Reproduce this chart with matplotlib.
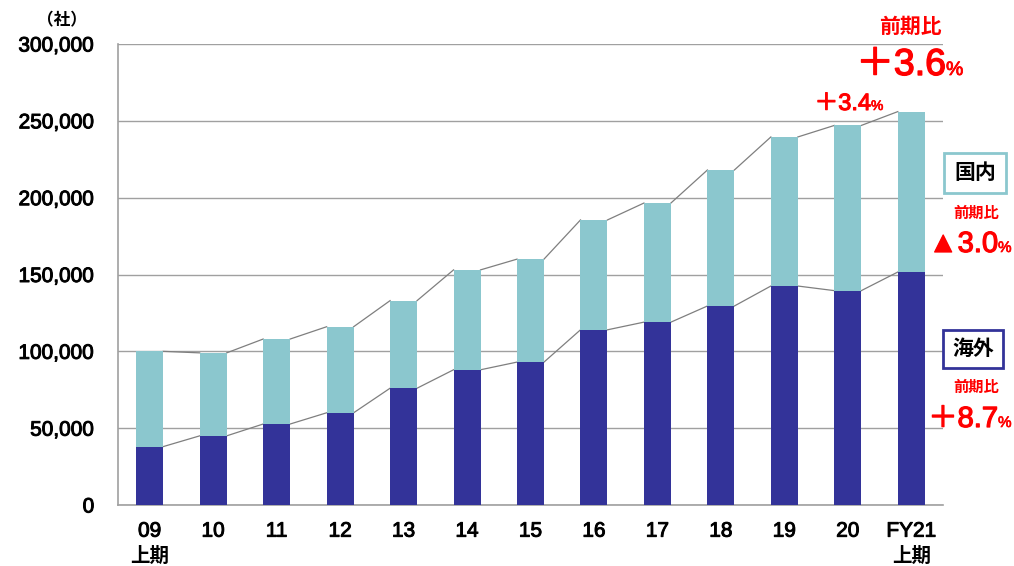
import numpy as np
import matplotlib
matplotlib.use('Agg')
import matplotlib.pyplot as plt
import matplotlib.transforms as mtransforms
import matplotlib.patheffects as pe

plt.rcParams['font.family'] = ['Liberation Sans', 'Noto Sans CJK JP']

categories = ['09', '10', '11', '12', '13', '14', '15', '16', '17', '18', '19', '20', 'FY21']
sub_labels = ['上期', '', '', '', '', '', '', '', '', '', '', '', '上期']
overseas = [38000, 45000, 52700, 60000, 76000, 88000, 93000, 114000, 119000, 129500, 142500, 139500, 151600]
domestic = [62000, 54000, 55300, 56000, 57000, 65000, 67000, 71500, 77500, 88500, 97000, 107500, 104400]
yticks = [0, 50000, 100000, 150000, 200000, 250000, 300000]

c_over = '#333399'
c_dom = '#8BC7CE'
W, H = 1014, 566

fig = plt.figure(figsize=(W / 100, H / 100), dpi=100)
ax = fig.add_axes([118 / W, 1 - 505 / H, (943 - 118) / W, (505 - 44) / H])

x = np.arange(len(categories))
w = 0.425
over = np.array(overseas)
total = over + np.array(domestic)

ax.bar(x, over, w, color=c_over, zorder=3)
ax.bar(x, domestic, w, bottom=over, color=c_dom, zorder=3)

# series lines between bar tops
for vals in (over, total):
    for i in range(len(x) - 1):
        ax.plot([x[i] + w / 2, x[i + 1] - w / 2], [vals[i], vals[i + 1]],
                color='#7F7F7F', lw=0.9, zorder=2)


def thick(color='black', lw=0.7):
    return [pe.withStroke(linewidth=lw, foreground=color)]


ax.set_xlim(-0.5, len(x) - 0.5)
ax.set_ylim(0, 300000)
ax.set_yticks(yticks)
ax.set_yticklabels([f'{v:,}' for v in yticks], fontsize=15)
ax.set_xticks(x)
ax.set_xticklabels(categories, fontsize=15)
ax.tick_params(axis='y', length=0, pad=17)
ax.tick_params(axis='x', length=0, pad=12)
for lab in ax.get_yticklabels() + ax.get_xticklabels():
    lab.set_path_effects(thick())
ax.grid(axis='y', color='#A0A0A0', lw=1, zorder=1)
for s in ('top', 'right'):
    ax.spines[s].set_visible(False)
for s in ('left', 'bottom'):
    ax.spines[s].set_color('#A0A0A0')
    ax.spines[s].set_linewidth(1.2)

trans = mtransforms.blended_transform_factory(ax.transData, fig.transFigure)
for xi, s in zip(x, sub_labels):
    if s:
        ax.text(xi, 1 - 556 / H, s, transform=trans, fontsize=14, fontweight='bold',
                ha='center', va='center')


def ftxt(px, py, s, **kw):
    return fig.text(px / W, 1 - py / H, s, **kw)


red = '#FF0000'
ftxt(62, 20, '（社）', fontsize=12, fontweight='bold', ha='center', va='center')

# total change
ftxt(910, 27, '前期比', fontsize=15, fontweight='bold', color=red, ha='center', va='center')
ftxt(946, 75, '＋3.6', fontsize=27, color=red, ha='right', va='baseline',
     path_effects=thick(red, 1.0))
ftxt(946, 75, '%', fontsize=14, color=red, ha='left', va='baseline',
     path_effects=thick(red, 0.6))
ftxt(871, 110, '＋3.4', fontsize=17, color=red, ha='right', va='baseline',
     path_effects=thick(red, 0.8))
ftxt(871, 110, '%', fontsize=10, color=red, ha='left', va='baseline',
     path_effects=thick(red, 0.5))

# legend boxes
ftxt(975, 173, '国内', fontsize=15, fontweight='bold', ha='center', va='center',
     bbox=dict(boxstyle='square,pad=0.5', fc='white', ec=c_dom, lw=2))
ftxt(976, 214, '前期比', fontsize=11, fontweight='bold', color=red, ha='center', va='center')
ftxt(998, 252, '▲3.0', fontsize=21, color=red, ha='right', va='baseline',
     path_effects=thick(red, 0.9))
ftxt(998, 252, '%', fontsize=11, color=red, ha='left', va='baseline',
     path_effects=thick(red, 0.5))

ftxt(973, 349, '海外', fontsize=15, fontweight='bold', ha='center', va='center',
     bbox=dict(boxstyle='square,pad=0.45', fc='white', ec=c_over, lw=2))
ftxt(976, 388, '前期比', fontsize=11, fontweight='bold', color=red, ha='center', va='center')
ftxt(998, 427, '＋8.7', fontsize=21, color=red, ha='right', va='baseline',
     path_effects=thick(red, 0.9))
ftxt(998, 427, '%', fontsize=11, color=red, ha='left', va='baseline',
     path_effects=thick(red, 0.5))

fig.savefig('out.png', dpi=100)
